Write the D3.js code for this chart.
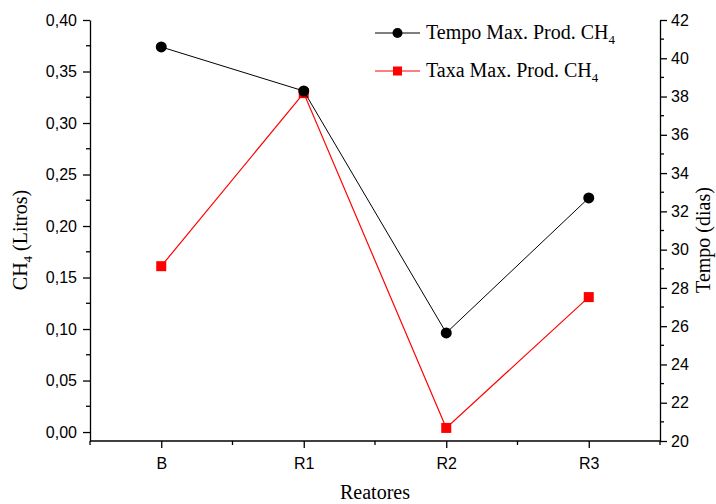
<!DOCTYPE html>
<html>
<head>
<meta charset="utf-8">
<script src="https://cdn.jsdelivr.net/npm/d3@7"></script>
<style>
  html, body { margin: 0; padding: 0; background: #fff; }
  svg { display: block; }
  .tick text { font-family: "Liberation Sans", Arial, sans-serif; font-size: 16px; fill: #000; }
  .title { font-family: "Liberation Serif", "Times New Roman", serif; font-size: 20px; fill: #000; }
</style>
</head>
<body>
<svg id="chart" width="716" height="504"></svg>
<script>
const categories = ["B", "R1", "R2", "R3"];
const tempoValues = [40.59, 38.29, 25.65, 32.70];   // right axis (dias)
const taxaValues  = [0.161, 0.329, 0.004, 0.131];  // left axis (Litros)
const leftTicks  = [0, 0.05, 0.10, 0.15, 0.20, 0.25, 0.30, 0.35, 0.40];
const rightTicks = [20, 22, 24, 26, 28, 30, 32, 34, 36, 38, 40, 42];
const seriesNames = ["Tempo Max. Prod. CH", "Taxa Max. Prod. CH"];

const svg = d3.select("#chart");
const L = 90, R = 660, T = 20, B = 441;

const x = d3.scalePoint().domain(categories).range([L, R]).padding(0.5);
const yL = d3.scaleLinear().domain([-0.0087, 0.40]).range([B, T]);
const yR = d3.scaleLinear().domain([20, 42]).range([B, T]);
const fmt = v => d3.format(".2f")(v).replace(".", ",");

// minor ticks
const minorL = d3.range(0.025, 0.40, 0.05);
const minorR = d3.range(21, 42, 2);
const step = x.step();
const minorX = [x(categories[0]) - step / 2].concat(categories.map(c => x(c) + step / 2));

const axisStyle = g => {
  g.select(".domain").attr("stroke", "#000").attr("stroke-width", 1.3);
  g.selectAll(".tick line").attr("stroke", "#000").attr("stroke-width", 1.3);
};

// left axis
const gL = svg.append("g").attr("transform", `translate(${L},0)`)
  .call(d3.axisLeft(yL).tickValues(leftTicks).tickFormat(fmt).tickSizeInner(7).tickSizeOuter(0).tickPadding(6));
gL.call(axisStyle);
gL.selectAll(".minor").data(minorL).join("line").attr("class", "minor")
  .attr("x1", 0).attr("x2", -4).attr("y1", d => yL(d)).attr("y2", d => yL(d))
  .attr("stroke", "#000").attr("stroke-width", 1.3);

// right axis
const gR = svg.append("g").attr("transform", `translate(${R},0)`)
  .call(d3.axisRight(yR).tickValues(rightTicks).tickFormat(d3.format("d")).tickSizeInner(7).tickSizeOuter(0).tickPadding(4));
gR.call(axisStyle);
gR.selectAll(".minor").data(minorR).join("line").attr("class", "minor")
  .attr("x1", 0).attr("x2", 4).attr("y1", d => yR(d)).attr("y2", d => yR(d))
  .attr("stroke", "#000").attr("stroke-width", 1.3);

// bottom axis
const gB = svg.append("g").attr("transform", `translate(0,${B})`)
  .call(d3.axisBottom(x).tickSizeInner(7).tickSizeOuter(0).tickPadding(10));
gB.call(axisStyle);
gB.select(".domain").attr("d", `M${L},0H${R}`);
gB.selectAll(".minor").data(minorX).join("line").attr("class", "minor")
  .attr("x1", d => d).attr("x2", d => d).attr("y1", 0).attr("y2", 4)
  .attr("stroke", "#000").attr("stroke-width", 1.3);

// axis titles
const t1 = svg.append("text").attr("class", "title")
  .attr("transform", `translate(27,240) rotate(-90)`).attr("text-anchor", "middle");
t1.append("tspan").text("CH");
t1.append("tspan").attr("font-size", 13).attr("dy", 5).text("4");
t1.append("tspan").attr("dy", -5).text(" (Litros)");

svg.append("text").attr("class", "title")
  .attr("transform", `translate(710,240) rotate(-90)`).attr("text-anchor", "middle")
  .attr("font-size", 19).text("Tempo (dias)");

svg.append("text").attr("class", "title").attr("x", 375).attr("y", 499)
  .attr("text-anchor", "middle").text("Reatores");

// series: red first (below), then black
const lineL = d3.line().x((d, i) => x(categories[i])).y(d => yL(d));
const lineR = d3.line().x((d, i) => x(categories[i])).y(d => yR(d));

svg.append("path").datum(taxaValues).attr("d", lineL)
  .attr("fill", "none").attr("stroke", "#ff0000").attr("stroke-width", 1.2);
svg.selectAll(".sq").data(taxaValues).join("rect").attr("class", "sq")
  .attr("x", (d, i) => x(categories[i]) - 5).attr("y", d => yL(d) - 5)
  .attr("width", 10).attr("height", 10).attr("fill", "#ff0000");

svg.append("path").datum(tempoValues).attr("d", lineR)
  .attr("fill", "none").attr("stroke", "#000").attr("stroke-width", 1);
svg.selectAll(".ci").data(tempoValues).join("circle").attr("class", "ci")
  .attr("cx", (d, i) => x(categories[i])).attr("cy", d => yR(d))
  .attr("r", 5.5).attr("fill", "#000");

// legend
const legend = [
  { name: seriesNames[0], color: "#000", shape: "circle", y: 33 },
  { name: seriesNames[1], color: "#ff0000", shape: "square", y: 71 }
];
legend.forEach(l => {
  const g = svg.append("g");
  g.append("line").attr("x1", 375).attr("x2", 420).attr("y1", l.y).attr("y2", l.y)
    .attr("stroke", l.color).attr("stroke-width", 1.2);
  if (l.shape === "circle") {
    g.append("circle").attr("cx", 397.5).attr("cy", l.y).attr("r", 5).attr("fill", l.color);
  } else {
    g.append("rect").attr("x", 393).attr("y", l.y - 4.5).attr("width", 9).attr("height", 9).attr("fill", l.color);
  }
  const t = g.append("text").attr("class", "title").attr("x", 426).attr("y", l.y + 6);
  t.append("tspan").text(l.name);
  t.append("tspan").attr("font-size", 13).attr("dy", 5).text("4");
});
</script>
</body>
</html>
